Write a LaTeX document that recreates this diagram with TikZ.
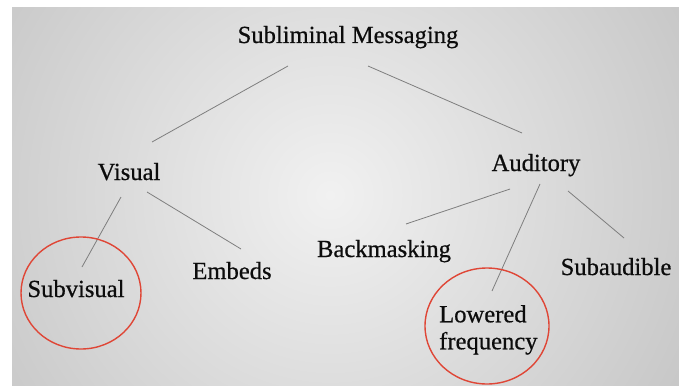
\documentclass[tikz,border=0pt]{standalone}
\usepackage{fontspec}
\setmainfont{Liberation Serif}
\newfontfamily\labelfont[FakeBold=0.6]{Liberation Serif}
\usetikzlibrary{calc}
\definecolor{bgin}{HTML}{F1F1F1}
\definecolor{bgout}{HTML}{A6A6A6}
\definecolor{linkgray}{HTML}{7E7E7E}
\definecolor{ringred}{HTML}{DF4636}
\definecolor{ink}{HTML}{0C0C0C}
\begin{document}
\begin{tikzpicture}[x=1pt,y=-1pt,
  label/.style={inner sep=0pt, anchor=base, text=ink, font=\labelfont\fontsize{24.6}{27}\selectfont},
  link/.style={draw=linkgray, line width=0.8pt},
  ring/.style={draw=ringred, line width=1.4pt}]
\useasboundingbox (0,0) rectangle (679,385);
\fill[white] (0,0) rectangle (679,385);
% shaded backdrop
\begin{scope}
  \clip (12,8) rectangle (679,385);
  \shade[inner color=bgin, outer color=bgout] (330,195) circle (720pt);
\end{scope}

% labels
\node[label] (sm)  at (348,43)  {Subliminal Messaging};
\node[label] (vis) at (129,180) {Visual};
\node[label] (aud) at (536,171) {Auditory};
\node[label] (sub) at (76,297)  {Subvisual};
\node[label] (emb) at (232,279) {Embeds};
\node[label] (bak) at (384,257) {Backmasking};
\node[label] (sau) at (616,275) {Subaudible};
\node[label, anchor=north west, align=left] (low) at (439,305) {Lowered\\frequency};

% tree edges
\draw[link] ($(sm.base)+(-60,23)$)  -- ($(vis.base)+(23,-38)$);
\draw[link] ($(sm.base)+(20,23)$)   -- ($(aud.base)+(-14,-38)$);
\draw[link] ($(vis.base)+(-8,17)$)  -- ($(sub.base)+(6,-30)$);
\draw[link] ($(vis.base)+(18,12)$)  -- ($(emb.base)+(9,-30)$);
\draw[link] ($(aud.base)+(-26,18)$) -- ($(bak.base)+(22,-33)$);
\draw[link] ($(aud.base)+(4,13)$)   -- ($(low.north west)+(53,-14)$);
\draw[link] ($(aud.base)+(32,20)$)  -- ($(sau.base)+(8,-37)$);

% highlight rings
\draw[ring] ($(sub.base)+(5,-4)$) ellipse [x radius=60pt, y radius=56pt];
\draw[ring] ($(low.north west)+(48,21)$) ellipse [x radius=62pt, y radius=58pt];
\end{tikzpicture}
\end{document}
